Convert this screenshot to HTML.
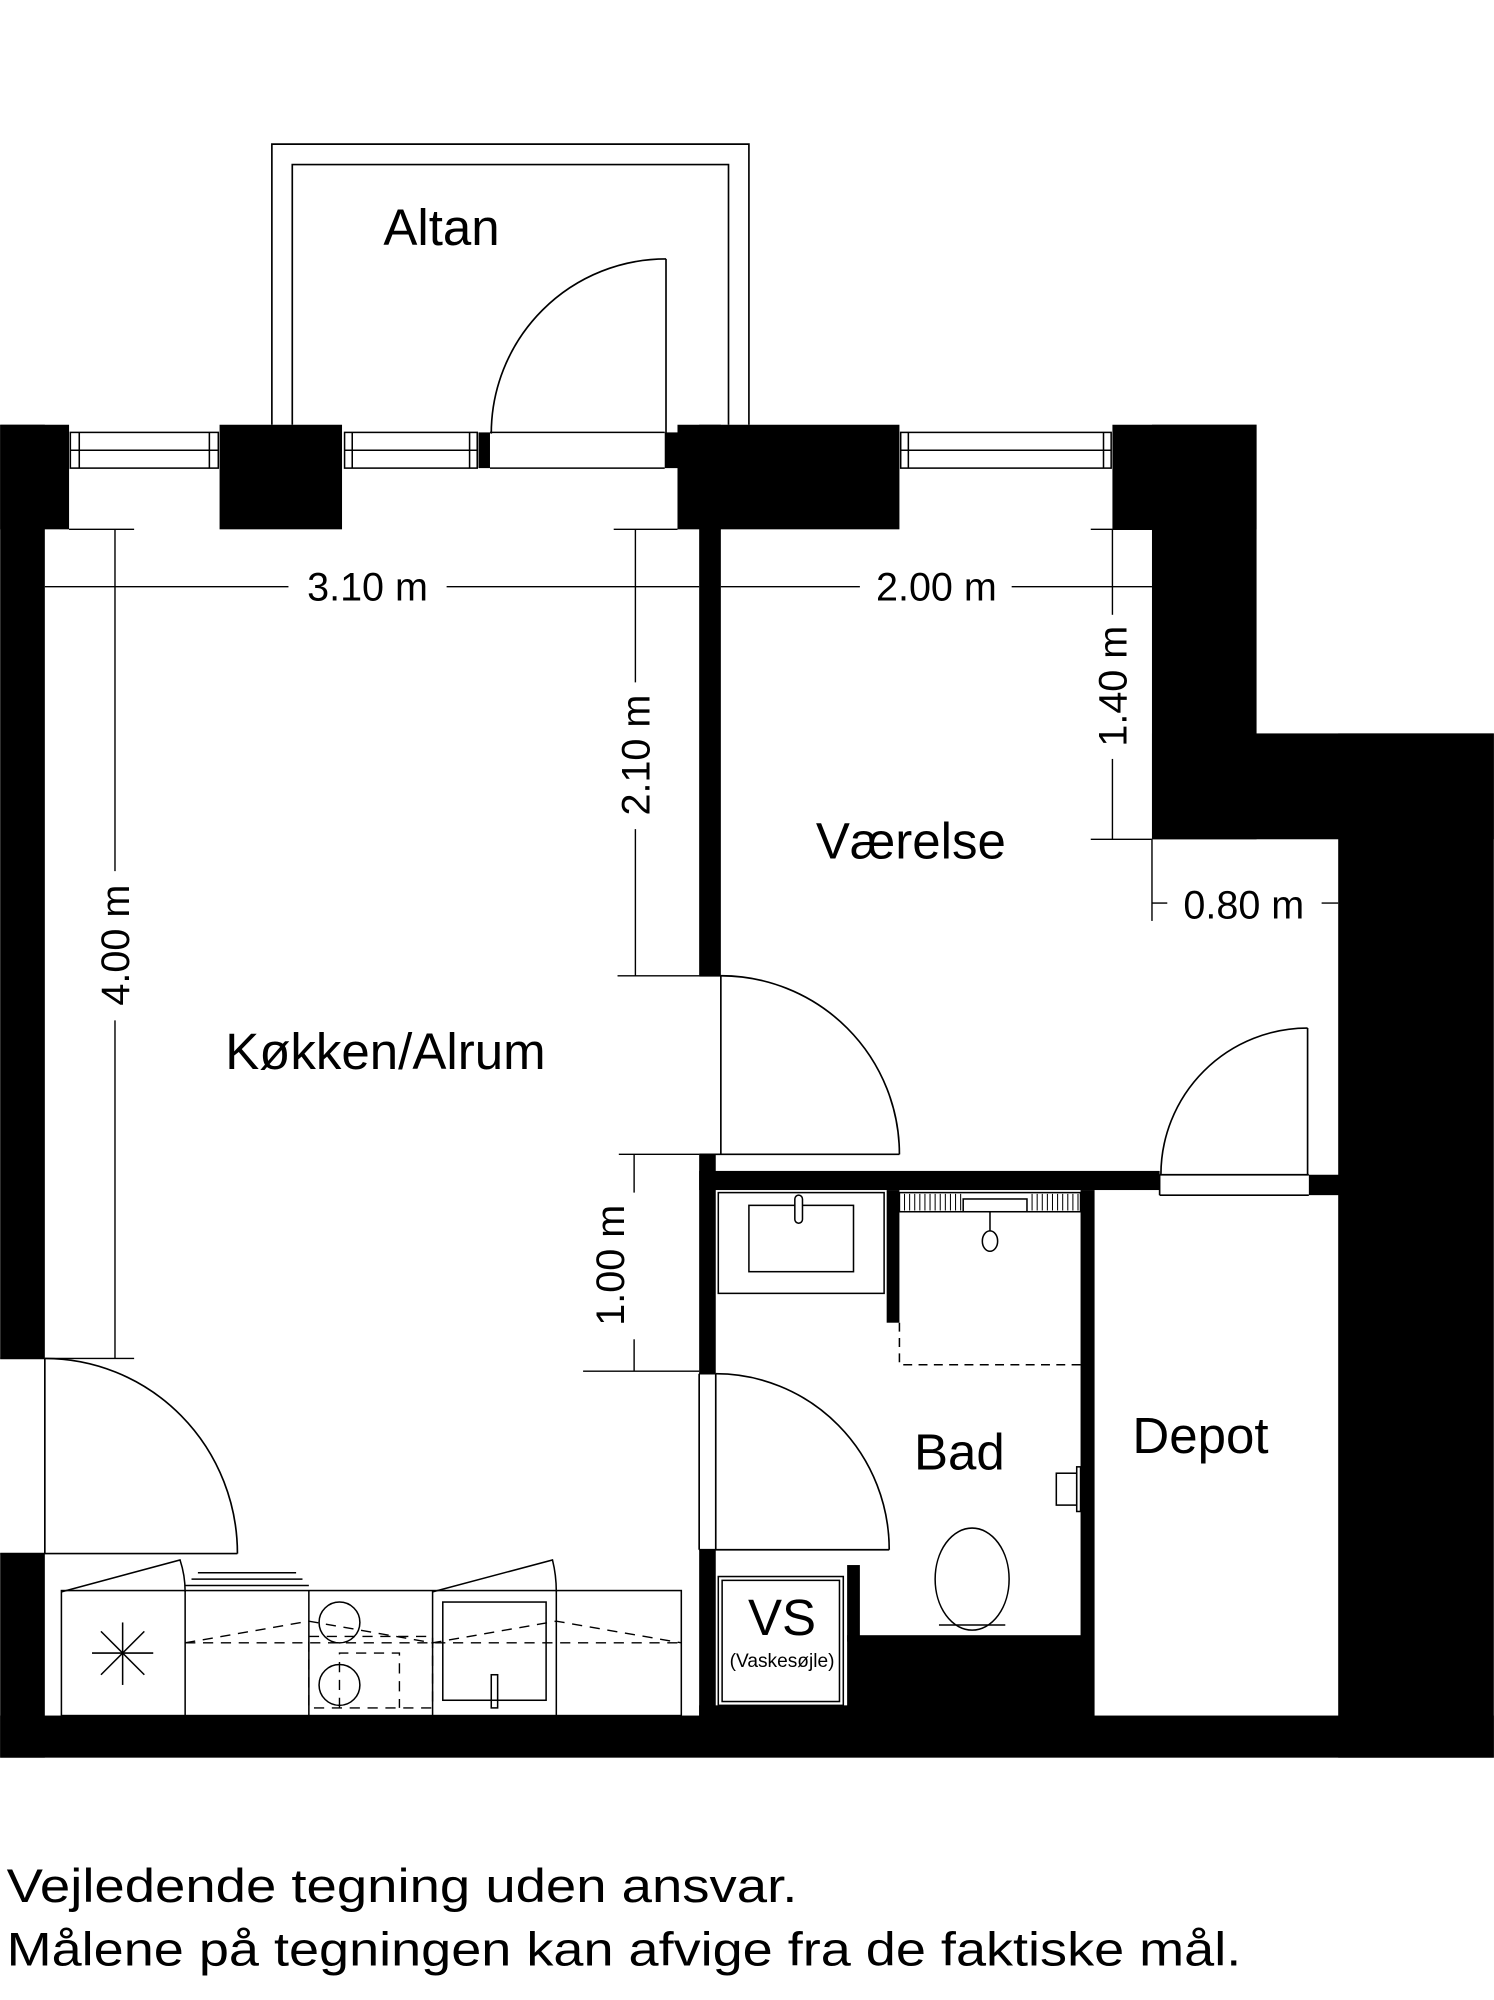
<!DOCTYPE html>
<html><head><meta charset="utf-8">
<style>html,body{margin:0;padding:0;background:#fff;}svg{display:block;}</style>
</head><body>
<svg width="1494" height="2000" viewBox="0 0 1171 1568" xmlns="http://www.w3.org/2000/svg" font-family="'Liberation Sans', 'DejaVu Sans', sans-serif">
<rect width="1171" height="1568" fill="#fff"/>
<!-- Balcony -->
<g fill="none" stroke="#000" stroke-width="1.3">
<polyline points="213,333 213,113 587,113 587,333"/>
<polyline points="229,333 229,129 571,129 571,333"/>
<line x1="522" y1="203" x2="522" y2="340"/>
<path d="M522,203 A137,137 0 0 0 385,340"/>
</g>
<text x="346" y="192" font-size="40" text-anchor="middle">Altan</text>

<!-- Walls -->
<g fill="#000">
<rect x="0" y="333" width="54" height="82"/>
<rect x="0" y="333" width="35" height="732"/>
<rect x="0" y="1218" width="35" height="160"/>
<rect x="0" y="1345" width="1171" height="33"/>
<rect x="172" y="333" width="96" height="82"/>
<rect x="375" y="339" width="9" height="28"/>
<rect x="521" y="339" width="12" height="28"/>
<rect x="531" y="333" width="174" height="82"/>
<rect x="548" y="333" width="17" height="432"/>
<rect x="548" y="905" width="13" height="172"/>
<rect x="548" y="1215" width="13" height="135"/>
<rect x="872" y="333" width="113" height="82"/>
<rect x="903" y="333" width="82" height="325"/>
<rect x="903" y="575" width="268" height="83"/>
<rect x="1049" y="575" width="122" height="803"/>
<rect x="548" y="918" width="361" height="15"/>
<rect x="1026" y="921" width="24" height="16"/>
<rect x="847" y="933" width="11" height="416"/>
<rect x="695" y="933" width="10" height="104"/>
<rect x="664" y="1227" width="10" height="60"/>
<rect x="664" y="1282" width="184" height="67"/>
<rect x="548" y="1337" width="120" height="12"/>
</g>

<!-- Windows -->
<g fill="#fff" stroke="#000" stroke-width="1.2">
<rect x="55" y="339" width="116" height="28"/>
<rect x="270" y="339" width="104" height="28"/>
<rect x="706" y="339" width="165" height="28"/>
<line x1="384" y1="339" x2="521" y2="339"/>
<line x1="384" y1="367" x2="521" y2="367"/>
</g>
<g stroke="#000" stroke-width="1.2">
<line x1="55" y1="353" x2="171" y2="353"/>
<line x1="270" y1="353" x2="374" y2="353"/>
<line x1="706" y1="353" x2="871" y2="353"/>
<line x1="62" y1="339" x2="62" y2="367"/><line x1="164" y1="339" x2="164" y2="367"/>
<line x1="276" y1="339" x2="276" y2="367"/><line x1="368" y1="339" x2="368" y2="367"/>
<line x1="712" y1="339" x2="712" y2="367"/><line x1="865" y1="339" x2="865" y2="367"/>
</g>

<!-- Doors -->
<g fill="none" stroke="#000" stroke-width="1.3">
<!-- entrance -->
<line x1="0" y1="1065" x2="35" y2="1065"/><line x1="0" y1="1218" x2="186" y2="1218"/>
<line x1="35" y1="1065" x2="35" y2="1218"/>
<path d="M35,1065 A151,153 0 0 1 186,1218"/>
<!-- kitchen to vaerelse -->
<line x1="548" y1="765" x2="565" y2="765"/><line x1="548" y1="905" x2="705" y2="905"/>
<line x1="565" y1="765" x2="565" y2="905"/>
<path d="M565,765 A140,140 0 0 1 705,905"/>
<!-- bad door -->
<line x1="548" y1="1077" x2="561" y2="1077"/><line x1="548" y1="1215" x2="697" y2="1215"/>
<line x1="548" y1="1077" x2="548" y2="1215"/>
<line x1="561" y1="1077" x2="561" y2="1215"/>
<path d="M561,1077 A136,138 0 0 1 697,1215"/>
<!-- depot door -->
<line x1="909" y1="921" x2="1026" y2="921"/><line x1="909" y1="937" x2="1026" y2="937"/>
<line x1="909" y1="921" x2="909" y2="937"/>
<line x1="1025" y1="806" x2="1025" y2="921"/>
<path d="M1025,806 A115,115 0 0 0 910,921"/>
</g>

<!-- Dimension lines -->
<g stroke="#000" stroke-width="1.1">
<line x1="54" y1="415" x2="105" y2="415"/>
<line x1="90" y1="415" x2="90" y2="683"/><line x1="90" y1="800" x2="90" y2="1065"/>
<line x1="35" y1="1065" x2="105" y2="1065"/>
<line x1="481" y1="415" x2="531" y2="415"/>
<line x1="498" y1="415" x2="498" y2="535"/><line x1="498" y1="650" x2="498" y2="765"/>
<line x1="484" y1="765" x2="548" y2="765"/>
<line x1="35" y1="460" x2="226" y2="460"/><line x1="350" y1="460" x2="548" y2="460"/>
<line x1="565" y1="460" x2="674" y2="460"/><line x1="793" y1="460" x2="903" y2="460"/>
<line x1="855" y1="415" x2="903" y2="415"/>
<line x1="872" y1="415" x2="872" y2="482"/><line x1="872" y1="595" x2="872" y2="658"/>
<line x1="855" y1="658" x2="903" y2="658"/>
<line x1="903" y1="658" x2="903" y2="722"/>
<line x1="903" y1="708" x2="915" y2="708"/><line x1="1036" y1="708" x2="1049" y2="708"/>
<line x1="485" y1="905" x2="548" y2="905"/>
<line x1="497" y1="905" x2="497" y2="935"/><line x1="497" y1="1050" x2="497" y2="1075"/>
<line x1="457" y1="1075" x2="548" y2="1075"/>
</g>
<g font-size="31">
<text x="288" y="471" text-anchor="middle">3.10 m</text>
<text x="734" y="471" text-anchor="middle">2.00 m</text>
<text x="975" y="720" text-anchor="middle">0.80 m</text>
<text transform="translate(101,741) rotate(-90)" text-anchor="middle">4.00 m</text>
<text transform="translate(509,592) rotate(-90)" text-anchor="middle">2.10 m</text>
<text transform="translate(883,538) rotate(-90)" text-anchor="middle">1.40 m</text>
<text transform="translate(489,992) rotate(-90)" text-anchor="middle">1.00 m</text>
</g>

<!-- Room labels -->
<g font-size="40">
<text x="714" y="673" text-anchor="middle">Værelse</text>
<text x="302" y="838" text-anchor="middle">Køkken/Alrum</text>
<text x="752" y="1152" text-anchor="middle">Bad</text>
<text x="941" y="1139" text-anchor="middle">Depot</text>
<text x="613" y="1282" text-anchor="middle">VS</text>
</g>
<text x="613" y="1307" font-size="15" text-anchor="middle">(Vaskesøjle)</text>

<!-- Bathroom fixtures -->
<g fill="none" stroke="#000" stroke-width="1.2">
<rect x="563" y="935" width="130" height="79"/>
<rect x="587" y="945" width="82" height="52"/>
<rect x="623" y="937" width="6" height="22" rx="3" fill="#fff"/>
<rect x="705" y="935" width="142" height="15"/>
<rect x="755" y="940" width="50" height="10" fill="#fff"/>
<line x1="776" y1="950" x2="776" y2="965"/>
<ellipse cx="776" cy="973" rx="6" ry="8"/>
<polyline points="705,1037 705,1070 847,1070" stroke-dasharray="7,5"/>
<rect x="828" y="1155" width="16" height="25"/>
<rect x="844" y="1150" width="3" height="35"/>
<ellipse cx="762" cy="1238" rx="29" ry="40"/>
<line x1="736" y1="1274" x2="788" y2="1274"/>
<rect x="563" y="1236" width="98" height="101"/>
<rect x="566" y="1239" width="92" height="95"/>
</g>
<g stroke="#000" stroke-width="0.8">
<path d="M709,936V949M713,936V949M717,936V949M721,936V949M725,936V949M729,936V949M733,936V949M737,936V949M741,936V949M745,936V949M749,936V949M753,936V949M809,936V949M813,936V949M817,936V949M821,936V949M825,936V949M829,936V949M833,936V949M837,936V949M841,936V949M845,936V949"/>
</g>

<!-- Kitchen -->
<g fill="none" stroke="#000" stroke-width="1.2">
<rect x="48" y="1247" width="486" height="98"/>
<line x1="145" y1="1247" x2="145" y2="1345"/>
<line x1="242" y1="1247" x2="242" y2="1345"/>
<line x1="339" y1="1247" x2="339" y2="1345"/>
<line x1="436" y1="1247" x2="436" y2="1345"/>
<path d="M48,1248 L141,1223 Q145,1235 145,1248"/>
<path d="M339,1248 L433,1223 Q436,1235 436,1248"/>
<line x1="155" y1="1233" x2="232" y2="1233"/>
<line x1="150" y1="1238" x2="237" y2="1238"/>
<line x1="145" y1="1243" x2="242" y2="1243"/>
<line x1="96" y1="1272" x2="96" y2="1321"/>
<line x1="72" y1="1296" x2="120" y2="1296"/>
<line x1="79" y1="1279" x2="113" y2="1313"/>
<line x1="113" y1="1279" x2="79" y2="1313"/>
<ellipse cx="266" cy="1272" rx="16" ry="16"/>
<ellipse cx="266" cy="1321" rx="16" ry="16"/>
<rect x="347" y="1256" width="81" height="77"/>
<rect x="385" y="1313" width="5" height="26"/>
</g>
<g fill="none" stroke="#000" stroke-width="1.1" stroke-dasharray="8,6">
<line x1="145" y1="1288" x2="534" y2="1288"/>
<polyline points="145,1288 242,1271 339,1288 436,1271 534,1288"/>
<rect x="242" y="1283" width="97" height="56"/>
<polyline points="266,1339 266,1296 313,1296 313,1339"/>
</g>

<!-- Footer -->
<text x="5" y="1491" font-size="37" textLength="620" lengthAdjust="spacingAndGlyphs">Vejledende tegning uden ansvar.</text>
<text x="5" y="1541" font-size="37" textLength="968" lengthAdjust="spacingAndGlyphs">Målene på tegningen kan afvige fra de faktiske mål.</text>
</svg>
</body></html>
